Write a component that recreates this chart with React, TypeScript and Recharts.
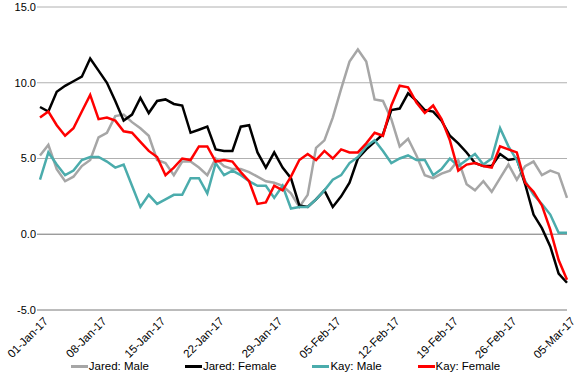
import React from 'react';
import { LineChart, Line, XAxis, YAxis, CartesianGrid, Legend, ReferenceLine } from 'recharts';

const dates = [
  '01-Jan-17','02-Jan-17','03-Jan-17','04-Jan-17','05-Jan-17','06-Jan-17','07-Jan-17',
  '08-Jan-17','09-Jan-17','10-Jan-17','11-Jan-17','12-Jan-17','13-Jan-17','14-Jan-17',
  '15-Jan-17','16-Jan-17','17-Jan-17','18-Jan-17','19-Jan-17','20-Jan-17','21-Jan-17',
  '22-Jan-17','23-Jan-17','24-Jan-17','25-Jan-17','26-Jan-17','27-Jan-17','28-Jan-17',
  '29-Jan-17','30-Jan-17','31-Jan-17','01-Feb-17','02-Feb-17','03-Feb-17','04-Feb-17',
  '05-Feb-17','06-Feb-17','07-Feb-17','08-Feb-17','09-Feb-17','10-Feb-17','11-Feb-17',
  '12-Feb-17','13-Feb-17','14-Feb-17','15-Feb-17','16-Feb-17','17-Feb-17','18-Feb-17',
  '19-Feb-17','20-Feb-17','21-Feb-17','22-Feb-17','23-Feb-17','24-Feb-17','25-Feb-17',
  '26-Feb-17','27-Feb-17','28-Feb-17','01-Mar-17','02-Mar-17','03-Mar-17','04-Mar-17',
  '05-Mar-17',
];

const jaredMale = [
  5.2, 5.9, 4.3, 3.5, 3.8, 4.5, 4.9, 6.4, 6.7, 7.8, 7.9, 7.4, 7.0, 6.5, 4.9, 4.7,
  3.9, 4.8, 4.8, 4.4, 3.9, 5.0, 4.5, 4.3, 4.3, 4.1, 3.8, 3.5, 3.4, 3.2, 2.7, 1.8,
  2.6, 5.7, 6.2, 7.7, 9.6, 11.4, 12.2, 11.4, 8.9, 8.8, 7.6, 5.8, 6.3, 5.2, 3.9, 3.7,
  4.0, 4.2, 4.9, 3.3, 2.9, 3.5, 2.8, 3.7, 4.6, 3.6, 4.5, 4.8, 3.9, 4.2, 4.0, 2.4,
];

const jaredFemale = [
  8.4, 8.1, 9.4, 9.8, 10.1, 10.4, 11.6, 10.8, 10.0, 8.8, 7.5, 7.9, 9.0, 8.0, 8.8, 8.9,
  8.6, 8.5, 6.7, 6.9, 7.1, 5.6, 5.5, 5.5, 7.1, 7.2, 5.4, 4.4, 5.4, 4.4, 3.7, 1.9,
  1.8, 2.3, 2.9, 1.8, 2.5, 3.4, 5.0, 5.6, 6.1, 6.6, 8.2, 8.3, 9.3, 8.8, 8.2, 8.1,
  7.5, 6.5, 6.0, 5.4, 4.7, 4.5, 4.5, 5.3, 4.9, 5.0, 3.3, 1.3, 0.4, -0.8, -2.6, -3.2,
];

const kayMale = [
  3.6, 5.4, 4.6, 3.9, 4.2, 4.9, 5.1, 5.1, 4.8, 4.4, 4.6, 3.2, 1.8, 2.6, 2.0, 2.3,
  2.6, 2.6, 3.7, 3.7, 2.7, 4.7, 3.9, 4.2, 3.9, 3.5, 3.2, 3.2, 2.4, 3.2, 1.7, 1.8,
  1.8, 2.3, 2.9, 3.6, 3.9, 4.7, 5.1, 5.8, 6.2, 5.5, 4.7, 5.0, 5.2, 4.9, 4.9, 3.9,
  4.3, 5.0, 4.5, 4.9, 5.3, 4.6, 5.0, 7.0, 5.8, 4.9, 3.5, 2.6, 2.0, 1.3, 0.1, 0.1,
];

const kayFemale = [
  7.7, 8.1, 7.2, 6.5, 7.0, 8.1, 9.2, 7.6, 7.7, 7.5, 6.8, 6.7, 6.1, 5.5, 5.1, 3.9,
  4.4, 5.0, 4.9, 5.8, 5.8, 4.8, 4.9, 4.8, 4.1, 3.5, 2.0, 2.1, 3.2, 2.9, 3.8, 4.9,
  5.3, 4.9, 5.5, 5.0, 5.6, 5.4, 5.4, 6.0, 6.7, 6.5, 8.5, 9.8, 9.7, 8.7, 8.0, 8.5,
  7.6, 6.2, 4.2, 4.6, 4.7, 4.5, 4.4, 5.8, 5.6, 5.4, 3.4, 2.8, 1.9, 0.3, -1.7, -3.0,
];

const yTicks = [-5, 0, 5, 10, 15];

const seriesNames = ['Jared: Male', 'Jared: Female', 'Kay: Male', 'Kay: Female'];
const seriesKeys = ['jm', 'jf', 'km', 'kf'];
const seriesColors = ['#a6a6a6', '#000000', '#4bacac', '#ff0000'];

const data = dates.map((d, i) => ({
  date: d,
  jm: jaredMale[i],
  jf: jaredFemale[i],
  km: kayMale[i],
  kf: kayFemale[i],
}));

const FONT = '"Liberation Sans", Arial, sans-serif';

const XTick = (props: any) => {
  const { x, y, payload } = props;
  return (
    <g transform={`translate(${x + 6},${y + 9})`}>
      <text
        x={0}
        y={0}
        dy="0.35em"
        textAnchor="end"
        transform="rotate(-45)"
        fontSize={11.5}
        fontFamily={FONT}
        fill="#000"
      >
        {payload.value}
      </text>
    </g>
  );
};

const LegendContent = () => (
  <div
    style={{
      display: 'flex',
      justifyContent: 'center',
      alignItems: 'center',
      gap: 36,
      fontFamily: FONT,
      fontSize: 11.5,
      lineHeight: '12px',
      color: '#000',
      height: 12,
      paddingLeft: 4,
    }}
  >
    {seriesNames.map((n, i) => (
      <div key={n} style={{ display: 'flex', alignItems: 'center' }}>
        <span
          style={{
            display: 'inline-block',
            width: 17,
            height: 3,
            background: seriesColors[i],
            marginRight: 1,
          }}
        />
        <span>{n}</span>
      </div>
    ))}
  </div>
);

export default function App() {
  return (
    <div style={{ position: 'absolute', left: 0, top: 0, width: 580, height: 384, background: '#fff' }}>
      <LineChart
        width={580}
        height={384}
        data={data}
        margin={{ top: 7, right: 13, bottom: 0, left: 0 }}
      >
        <CartesianGrid vertical={false} stroke="#b0b0b0" strokeWidth={1} />
        <XAxis
          dataKey="date"
          interval={6}
          tick={<XTick />}
          tickLine={false}
          tickSize={0}
          tickMargin={0}
          height={50}
          axisLine={{ stroke: '#a0a0a0' }}
          padding={{ left: 3, right: 0 }}
        />
        <YAxis
          domain={[-5, 15]}
          ticks={yTicks}
          width={37}
          axisLine={false}
          tickLine={false}
          tickSize={0}
          tickMargin={1}
          tickFormatter={(v: number) => v.toFixed(1)}
          tick={{ fontSize: 11, fontFamily: FONT, fill: '#000' }}
        />
        <ReferenceLine y={0} stroke="#909090" />
        <Legend verticalAlign="bottom" height={24} content={<LegendContent />} />
        {seriesKeys.map((k, i) => (
          <Line
            key={k}
            type="linear"
            dataKey={k}
            name={seriesNames[i]}
            stroke={seriesColors[i]}
            strokeWidth={2.5}
            dot={false}
            activeDot={false}
            isAnimationActive={false}
          />
        ))}
      </LineChart>
    </div>
  );
}
